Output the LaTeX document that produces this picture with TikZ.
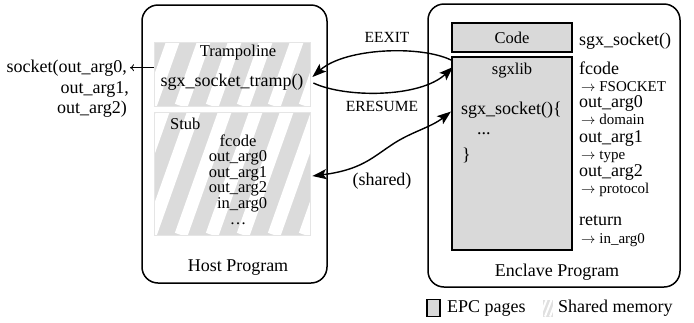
\documentclass[tikz,border=0pt]{standalone}
\usepackage{fontspec}
\setmainfont{Liberation Serif}
\usepackage{tikz}
\usetikzlibrary{arrows.meta}

\begin{document}
\begin{tikzpicture}[x=1pt, y=-1pt,
    >={Stealth[length=14pt, width=10pt, inset=3pt]},
    prog/.style={draw, line width=1.5pt, rounded corners=16pt, inner sep=0pt},
    epc/.style={draw, fill=black!15, inner sep=0pt},
    shared/.style={draw=black!10, line width=0.8pt, fill=black!14, inner sep=0pt,
      path picture={\foreach \s in {-6,...,5}
        \draw[white, line width=13pt] ([xshift=\s*31pt-20pt]path picture bounding box.south) -- ++(48pt,135pt);}},
    big/.style={font=\fontsize{18}{20}\selectfont, inner sep=0pt},
    mid/.style={font=\fontsize{16.5}{16}\selectfont, inner sep=0pt},
    small/.style={font=\fontsize{15}{15}\selectfont, inner sep=0pt},
    flow/.style={line width=1.4pt}]
  \useasboundingbox (0,0) rectangle (694,322);

  % host side
  \node[prog, minimum width=185pt, minimum height=278pt] (host) at (234.5,144) {};
  \node[shared, minimum width=156pt, minimum height=64pt] (tramp) at (232,74) {};
  \node[shared, minimum width=156pt, minimum height=123pt] (stub) at (232,173.5) {};
  \node[mid] (trampname) at (238,53) {Trampoline};
  \node[big] (trampfn) at (232,82) {sgx\_socket\_tramp()};
  \node[mid, anchor=base west] (stubname) at (170,129) {Stub};
  \foreach \i/\t in {1/fcode, 2/out\_arg0, 3/out\_arg1, 4/out\_arg2, 5/\ \ in\_arg0, 6/\ldots}
    \node[mid, anchor=base] (s\i) at (238,{130.4+15.6*\i}) {\t};
  \node[big, anchor=base] (hostname) at (238,271) {Host Program};

  \node[big, anchor=base east] (sock) at (127,72) {socket(out\_arg0,};
  \node[big, anchor=base east] (sockarg1) at (129,93) {out\_arg1,};
  \node[big, anchor=base east] (sockarg2) at (127,113) {out\_arg2)};
  \draw[line width=0.8pt, -{To[length=4pt, width=7pt]}] (tramp.west |- sock.east) -- ([xshift=3pt]sock.east);

  % enclave side
  \node[prog, minimum width=252pt, minimum height=283pt] (encl) at (554,145.5) {};
  \node[epc, line width=1.3pt, minimum width=120pt, minimum height=29pt] (code) at (512,37.5) {};
  \node[mid] at (code) {Code};
  \node[epc, line width=2pt, minimum width=120pt, minimum height=193pt] (sgxlib) at (512,153.5) {};
  \node[mid] (libname) at (512,71) {sgxlib};
  \node[big, anchor=base west] (fn) at (461,114) {sgx\_socket()\{};
  \node[big, anchor=base west] (fndots) at (477,134) {...};
  \node[big, anchor=base west] (fnend) at (462,160) {\}};
  \node[big, anchor=base] (enclname) at (557,276) {Enclave Program};

  \foreach \n/\x/\y/\f/\t in {r0/579/45/big/sgx\_socket(), r1/579/74/big/fcode,
      r2/581/91/small/$\rightarrow$ FSOCKET, r3/579/107/big/out\_arg0,
      r4/581/124/small/$\rightarrow$ domain, r5/579/142/big/out\_arg1,
      r6/581/159/small/$\rightarrow$ type, r7/579/176/big/out\_arg2,
      r8/581/193/small/$\rightarrow$ protocol, r9/579/225/big/return,
      r10/581/243/small/$\rightarrow$ in\_arg0}
    \node[\f, anchor=base west] (\n) at (\x,\y) {\t};

  % transitions
  \draw[flow, ->] ([yshift=-4pt]sgxlib.north west) .. controls (420,45) and (345,48) .. ([xshift=2pt,yshift=-3pt]tramp.east);
  \draw[flow, ->] ([xshift=3pt,yshift=-9pt]tramp.east) .. controls (345,98) and (420,98) .. ([xshift=2pt,yshift=-11pt]sgxlib.north west);
  \draw[flow, <->] ([xshift=2pt,yshift=-2.5pt]stub.east) .. controls (360,170) and (372,158) .. (390,146)
    .. controls (410,132) and (430,128) .. ([yshift=42pt]sgxlib.west);
  \node[font=\fontsize{15.5}{16}\selectfont, inner sep=0pt] (eexit) at (387,37) {EEXIT};
  \node[font=\fontsize{15.5}{16}\selectfont, inner sep=0pt] (eresume) at (382,106) {ERESUME};
  \node[big] (sharedlbl) at (382,181) {(shared)};

  % legend
  \node[epc, line width=1.2pt, minimum width=13pt, minimum height=17pt] (epckey) at (433.5,308) {};
  \node[big, anchor=west] (epctxt) at (447,308) {EPC pages};
  \node[fill=black!12, minimum width=10pt, minimum height=17pt, inner sep=0pt,
    path picture={\foreach \s in {-2,...,2}
      \draw[white, line width=2pt] ([xshift=\s*5pt-3pt]path picture bounding box.south) -- ++(7pt,18pt);}] (shkey) at (548,308) {};
  \node[big, anchor=west] (shtxt) at (558,308) {Shared memory};
\end{tikzpicture}
\end{document}
